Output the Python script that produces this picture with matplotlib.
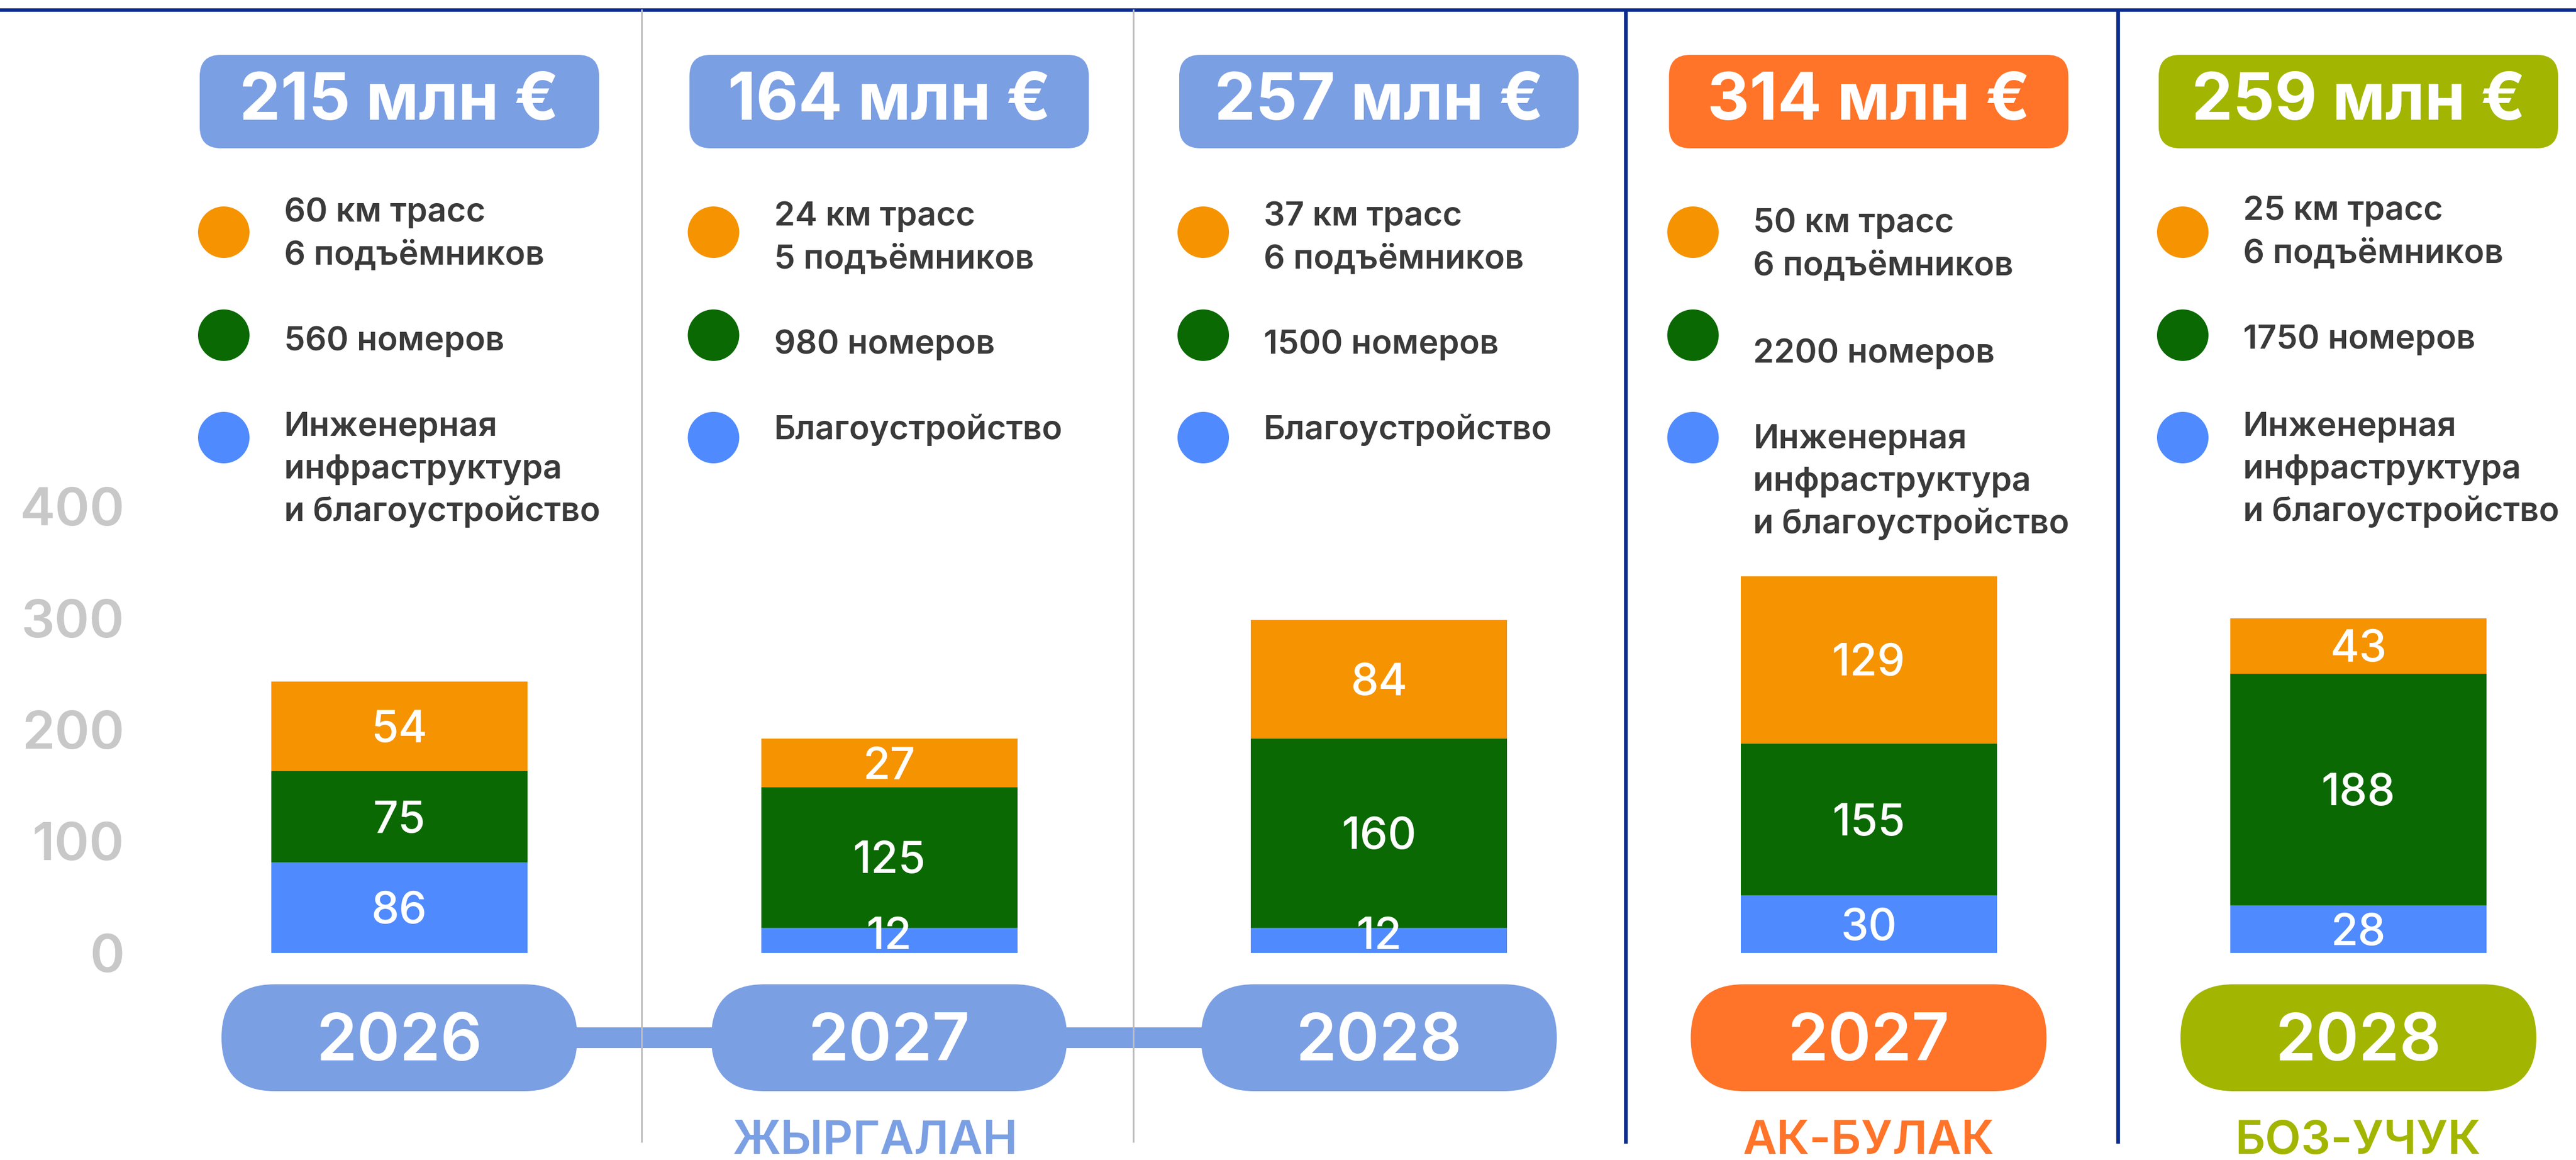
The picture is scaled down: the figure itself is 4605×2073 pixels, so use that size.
import matplotlib.pyplot as plt
from matplotlib.patches import FancyBboxPatch, Rectangle, Circle

plt.rcParams['font.family'] = ['Inter', 'DejaVu Sans']

# ---- data ----
totals = [215, 164, 257, 314, 259]
years = ["2026", "2027", "2028", "2027", "2028"]
regions = ["ЖЫРГАЛАН", "АК-БУЛАК", "БОЗ-УЧУК"]

infra_vals = [86, 12, 12, 30, 28]
rooms_vals = [75, 125, 160, 155, 188]
slopes_vals = [54, 27, 84, 129, 43]

# heights as drawn against the 0-400 axis (the picture is not to scale)
infra_h = [81, 22.5, 22.5, 51.5, 42.5]
rooms_h = [82, 126, 169.5, 136, 207.5]
slopes_h = [80, 43.5, 106, 150, 50]

slopes_text = [["60 км трасс", "6 подъёмников"],
               ["24 км трасс", "5 подъёмников"],
               ["37 км трасс", "6 подъёмников"],
               ["50 км трасс", "6 подъёмников"],
               ["25 км трасс", "6 подъёмников"]]
rooms_text = [["560 номеров"], ["980 номеров"], ["1500 номеров"],
              ["2200 номеров"], ["1750 номеров"]]
infra_text = [["Инженерная", "инфраструктура", "и благоустройство"],
              ["Благоустройство"],
              ["Благоустройство"],
              ["Инженерная", "инфраструктура", "и благоустройство"],
              ["Инженерная", "инфраструктура", "и благоустройство"]]

yticks = [0, 100, 200, 300, 400]

# ---- style ----
ORANGE = "#f69300"
GREEN = "#0a6902"
BLUE = "#4f8aff"
LIGHT = "#7b9fe3"
pill_colors = [LIGHT, LIGHT, LIGHT, "#ff7429", "#a2b500"]
region_colors = [LIGHT, "#ff7429", "#a2b500"]
NAVY = "#0b2c8e"
TEXT = "#3a3a3a"

W, H = 4605, 2073
fig = plt.figure(figsize=(W / 100, H / 100), dpi=100)
fig.patch.set_facecolor("white")

# bar axes: x in column index, y in value units (0 at px 1703, 100 = 199.5 px)
left = 250
ax = fig.add_axes([left / W, 0, 1 - left / W, 1])
step = 875.5
x0 = 714
ax.set_xlim((left - x0) / step, (W - x0) / step)
ax.set_ylim(-(H - 1703) / 1.995, 1703 / 1.995)
for s in ax.spines.values():
    s.set_visible(False)
ax.set_xticks([])
ax.set_yticks(yticks)
ax.tick_params(axis="y", length=0, pad=20, labelsize=68, labelcolor="#c8c8c8")
for t in ax.get_yticklabels():
    t.set_fontweight("semibold")

xs = list(range(len(totals)))
bw = 458 / step
ax.bar(xs, infra_h, width=bw, color=BLUE, linewidth=0)
ax.bar(xs, rooms_h, width=bw, bottom=infra_h, color=GREEN, linewidth=0)
bot2 = [a + b for a, b in zip(infra_h, rooms_h)]
ax.bar(xs, slopes_h, width=bw, bottom=bot2, color=ORANGE, linewidth=0)

for i in xs:
    segs = [(0, infra_h[i], infra_vals[i]),
            (infra_h[i], rooms_h[i], rooms_vals[i]),
            (bot2[i], slopes_h[i], slopes_vals[i])]
    for b, h, v in segs:
        base = max(b + h / 2 - 14, b + 3.5)
        ax.text(i, base, str(v), ha="center", va="baseline", color="white",
                fontsize=57, fontweight="medium")

# overlay axes in pixel coordinates (y down)
ov = fig.add_axes([0, 0, 1, 1])
ov.set_xlim(0, W)
ov.set_ylim(H, 0)
ov.axis("off")
ov.patch.set_visible(False)

cx = [x0 + step * i for i in xs]

# top rule and column separators
ov.plot([0, W], [18, 18], color=NAVY, lw=4.5, solid_capstyle="butt")
sep_x = [1147, 2026, 2906, 3786]
for k, sx in enumerate(sep_x):
    if k < 2:
        ov.plot([sx, sx], [18, 2040], color="#bdbdbd", lw=2.2, zorder=5)
    else:
        ov.plot([sx, sx], [18, 2040], color=NAVY, lw=4.8, zorder=5)

# connector between the three Жыргалан year pills
ov.add_patch(Rectangle((cx[0], 1836), cx[2] - cx[0], 37, color=LIGHT,
                       linewidth=0, zorder=1))

legend_y = [[376, 606, 759], [383, 612, 765], [383, 612, 765],
            [395, 628, 781], [373, 603, 759]]
circle_y = [415, 599, 782]
line_gap = 76

for i in xs:
    c = cx[i]
    # header pill
    ov.add_patch(FancyBboxPatch((c - 357, 98), 714, 167,
                                boxstyle="round,pad=0,rounding_size=38",
                                facecolor=pill_colors[i], edgecolor="none",
                                zorder=2))
    ov.text(c, 214, f"{totals[i]} млн €", ha="center", va="baseline",
            color="white", fontsize=84, fontweight="bold", zorder=3)
    # legend
    groups = [slopes_text[i], rooms_text[i], infra_text[i]]
    for g, (lines, col) in enumerate(zip(groups, [ORANGE, GREEN, BLUE])):
        ov.add_patch(Circle((c - 314, circle_y[g]), 46, color=col,
                            linewidth=0, zorder=2))
        for j, line in enumerate(lines):
            ov.text(c - 206, legend_y[i][g] + j * line_gap + 20, line,
                    ha="left", va="baseline", color=TEXT, fontsize=43,
                    fontweight="semibold")
    # year pill
    ov.add_patch(FancyBboxPatch((c - 318, 1759), 636, 191,
                                boxstyle="round,pad=0,rounding_size=95",
                                facecolor=pill_colors[i], edgecolor="none",
                                zorder=2))
    ov.text(c, 1895, years[i], ha="center", va="baseline", color="white",
            fontsize=84, fontweight="semibold", zorder=3)

region_x = [1565, cx[3], cx[4]]
for name, rx, col in zip(regions, region_x, region_colors):
    ov.text(rx, 2062, name, ha="center", va="baseline", color=col,
            fontsize=60, fontweight="semibold")

fig.savefig("out.png", dpi=100, facecolor="white")
